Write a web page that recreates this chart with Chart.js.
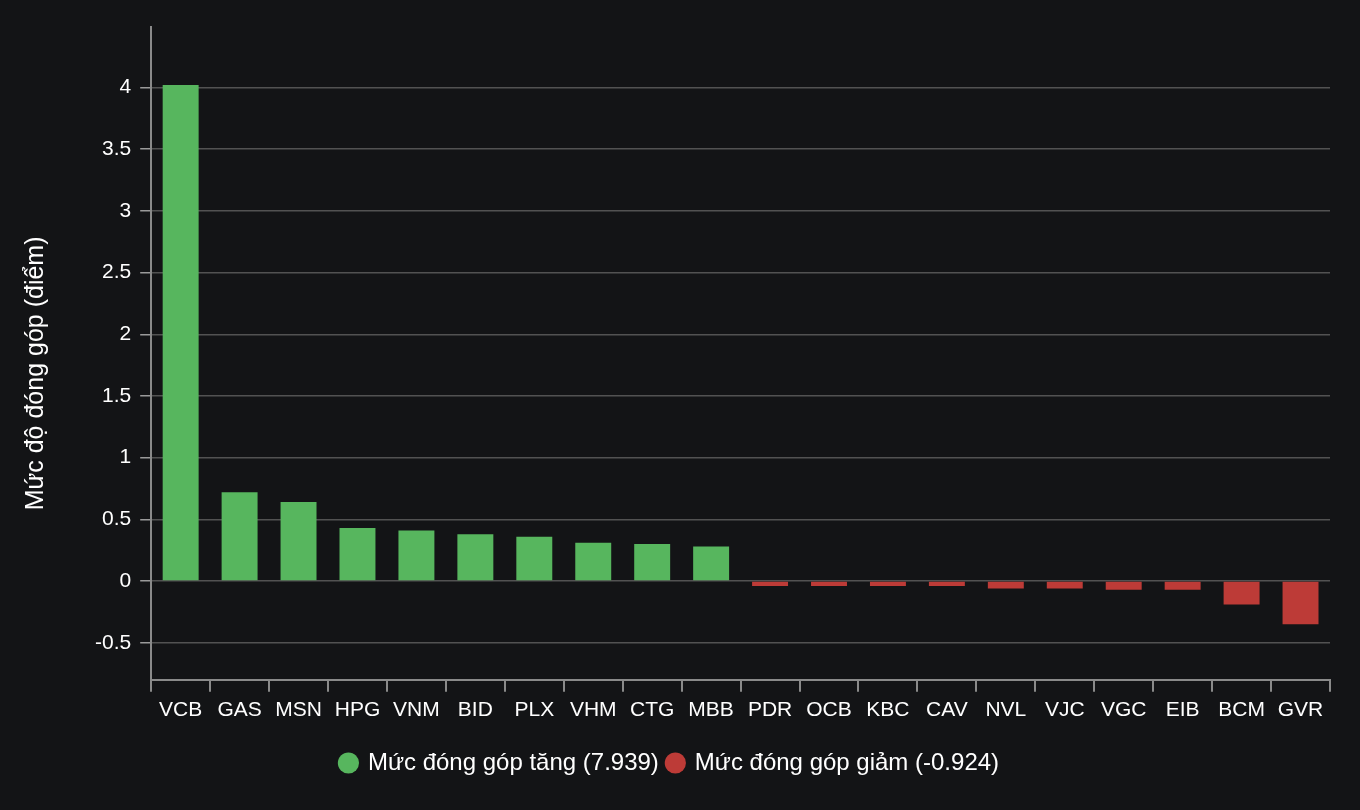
<!DOCTYPE html>
<html>
<head>
<meta charset="utf-8">
<script src="https://cdn.jsdelivr.net/npm/chart.js@4"></script>
<style>
  html, body { margin: 0; padding: 0; background: #131416; }
  #wrap { width: 1360px; height: 810px; }
</style>
</head>
<body>
<div id="wrap"><canvas id="contribChart"></canvas></div>
<script>
const categories = ['VCB', 'GAS', 'MSN', 'HPG', 'VNM', 'BID', 'PLX', 'VHM', 'CTG', 'MBB',
                    'PDR', 'OCB', 'KBC', 'CAV', 'NVL', 'VJC', 'VGC', 'EIB', 'BCM', 'GVR'];
const gainValues = [4.02, 0.72, 0.64, 0.43, 0.41, 0.38, 0.36, 0.31, 0.30, 0.28,
                    null, null, null, null, null, null, null, null, null, null];
const lossValues = [null, null, null, null, null, null, null, null, null, null,
                    -0.04, -0.04, -0.04, -0.04, -0.06, -0.06, -0.07, -0.07, -0.19, -0.35];
const yTicks = [-0.5, 0, 0.5, 1, 1.5, 2, 2.5, 3, 3.5, 4];
const gainLabel = 'Mức đóng góp tăng (7.939)';
const lossLabel = 'Mức đóng góp giảm (-0.924)';
const yTitle = 'Mức độ đóng góp (điểm)';

const FONT = '"Liberation Sans", Helvetica, Arial, sans-serif';

// y axis title, centred on the whole plot height like the original
const yTitlePlugin = {
    id: 'yTitle',
    afterDraw(chart) {
        const { ctx, chartArea } = chart;
        ctx.save();
        ctx.translate(36, (chartArea.top + chartArea.bottom) / 2 + 20);
        ctx.rotate(-Math.PI / 2);
        ctx.fillStyle = '#ffffff';
        ctx.font = '25px ' + FONT;
        ctx.textAlign = 'center';
        ctx.textBaseline = 'middle';
        ctx.fillText(yTitle, 0, 0);
        ctx.restore();
    }
};

new Chart(document.getElementById('contribChart').getContext('2d'), {
    type: 'bar',
    data: {
        labels: categories,
        datasets: [
            {
                label: gainLabel,
                data: gainValues,
                backgroundColor: '#57b65e',
                borderWidth: 0,
                categoryPercentage: 1,
                barPercentage: 0.61
            },
            {
                label: lossLabel,
                data: lossValues,
                backgroundColor: '#bd3b37',
                borderWidth: 0,
                categoryPercentage: 1,
                barPercentage: 0.61
            }
        ]
    },
    plugins: [yTitlePlugin],
    options: {
        responsive: true,
        maintainAspectRatio: false,
        animation: false,
        layout: { padding: { top: 27, right: 30, left: 10, bottom: 25 } },
        plugins: {
            legend: {
                position: 'bottom',
                labels: {
                    color: '#ffffff',
                    font: { size: 24, family: FONT },
                    usePointStyle: true,
                    pointStyle: 'circle',
                    boxWidth: 15,
                    boxHeight: 15,
                    padding: 9
                }
            },
            tooltip: { enabled: false }
        },
        scales: {
            x: {
                stacked: true,
                offset: true,
                border: { color: '#8a8a8a', width: 2 },
                grid: {
                    offset: true,
                    drawOnChartArea: false,
                    tickLength: 12,
                    tickColor: '#8a8a8a',
                    lineWidth: 2
                },
                ticks: {
                    color: '#ffffff',
                    font: { size: 21, family: FONT },
                    maxRotation: 0,
                    autoSkip: false,
                    padding: 6
                },
                // room between the tick labels and the legend
                afterFit: (scale) => { scale.height += 13; }
            },
            y: {
                stacked: true,
                min: -0.8,
                max: 4.49,
                afterBuildTicks: (axis) => {
                    axis.ticks = yTicks.map(v => ({ value: v }));
                },
                // leave room for the title drawn by yTitlePlugin
                afterFit: (scale) => { scale.width += 76; },
                border: { color: '#8a8a8a', width: 2 },
                grid: {
                    color: '#525252',
                    lineWidth: 1.5,
                    tickLength: 11,
                    tickColor: '#9a9a9a'
                },
                ticks: {
                    color: '#ffffff',
                    font: { size: 21, family: FONT },
                    padding: 9,
                    callback: (value) => String(value)
                }
            }
        }
    }
});
</script>
</body>
</html>
